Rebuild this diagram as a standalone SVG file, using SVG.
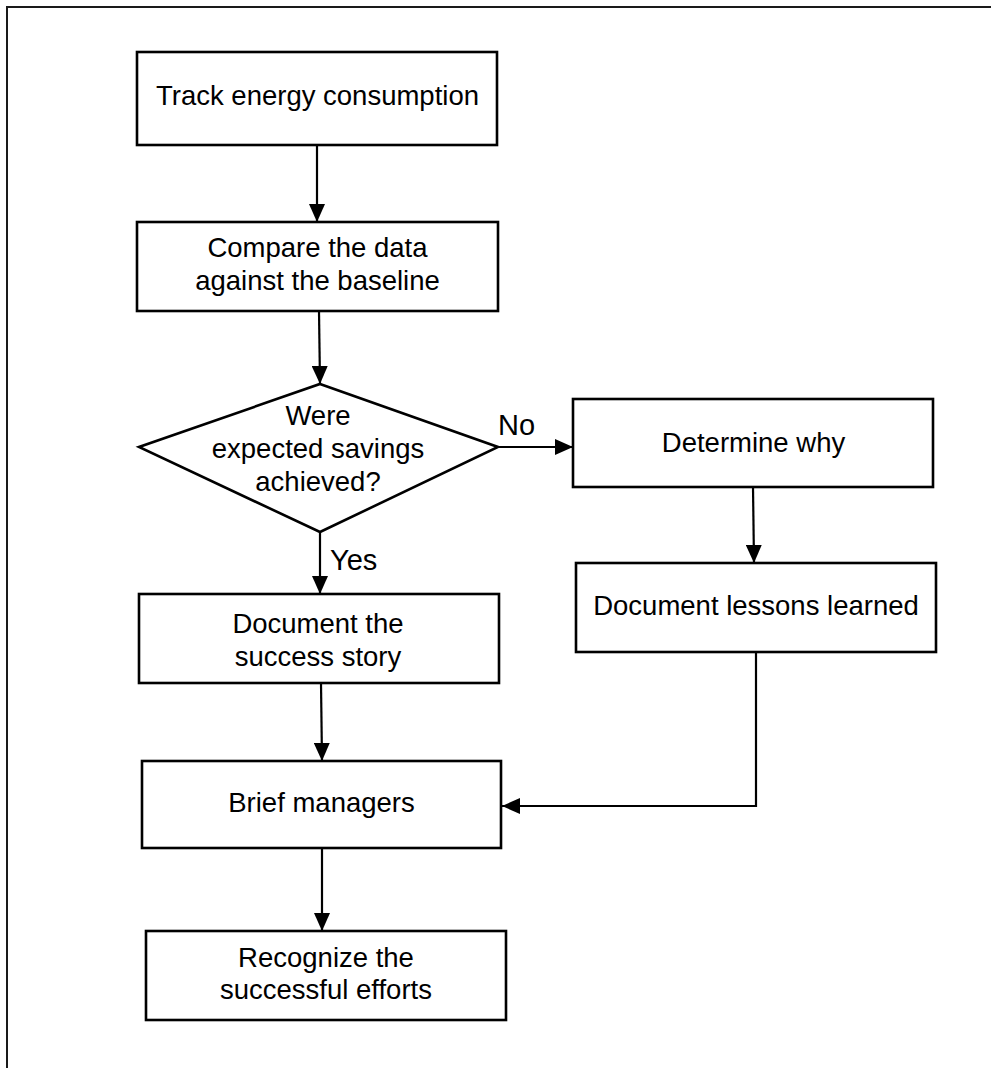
<svg xmlns="http://www.w3.org/2000/svg" width="991" height="1068" viewBox="0 0 991 1068">
  <style>
    .box { fill: #ffffff; stroke: #000000; stroke-width: 2.6; }
    .edge { fill: none; stroke: #000000; stroke-width: 2.2; }
    .frame { fill: none; stroke: #1a1a1a; stroke-width: 2; }
    text { font-family: "Liberation Sans", Arial, sans-serif; font-size: 27.5px; fill: #000000; text-anchor: middle; }
    .lbl { font-size: 29px; text-anchor: start; }
  </style>
  <defs>
    <marker id="arrow" markerUnits="userSpaceOnUse" markerWidth="18" markerHeight="16" refX="18" refY="8" orient="auto">
      <path d="M0,0 L18,8 L0,16 Z" fill="#000000"/>
    </marker>
  </defs>

  <!-- page frame (top and left edges) -->
  <path class="frame" d="M7,1068 L7,7 L991,7"/>

  <g id="connectors">
    <line class="edge" x1="317" y1="145" x2="317" y2="222" marker-end="url(#arrow)"/>
    <line class="edge" x1="319" y1="311" x2="320" y2="384" marker-end="url(#arrow)"/>
    <line class="edge" x1="498" y1="447" x2="573" y2="447" marker-end="url(#arrow)"/>
    <line class="edge" x1="320" y1="532" x2="320" y2="594" marker-end="url(#arrow)"/>
    <line class="edge" x1="753" y1="487" x2="754" y2="563" marker-end="url(#arrow)"/>
    <line class="edge" x1="321" y1="683" x2="322" y2="761" marker-end="url(#arrow)"/>
    <polyline class="edge" points="756,652 756,806 502,806" marker-end="url(#arrow)"/>
    <line class="edge" x1="322" y1="848" x2="322" y2="931" marker-end="url(#arrow)"/>
    <text class="lbl" x="498" y="435">No</text>
    <text class="lbl" x="330" y="570">Yes</text>
  </g>

  <g id="track">
    <rect class="box" x="137" y="52" width="360" height="93"/>
    <text x="317.5" y="105">Track energy consumption</text>
  </g>

  <g id="compare">
    <rect class="box" x="137" y="222" width="361" height="89"/>
    <text x="317.5" y="257">Compare the data</text>
    <text x="317.5" y="290">against the baseline</text>
  </g>

  <g id="decision">
    <polygon class="box" points="320,384 498,447 320,532 139,447"/>
    <text x="318" y="425">Were</text>
    <text x="318" y="458">expected savings</text>
    <text x="318" y="491">achieved?</text>
  </g>

  <g id="determine">
    <rect class="box" x="573" y="399" width="360" height="88"/>
    <text x="753.5" y="452">Determine why</text>
  </g>

  <g id="lessons">
    <rect class="box" x="576" y="563" width="360" height="89"/>
    <text x="756" y="615">Document lessons learned</text>
  </g>

  <g id="success">
    <rect class="box" x="139" y="594" width="360" height="89"/>
    <text x="318" y="633">Document the</text>
    <text x="318" y="666">success story</text>
  </g>

  <g id="brief">
    <rect class="box" x="142" y="761" width="359" height="87"/>
    <text x="321.5" y="812">Brief managers</text>
  </g>

  <g id="recognize">
    <rect class="box" x="146" y="931" width="360" height="89"/>
    <text x="326" y="967">Recognize the</text>
    <text x="326" y="999">successful efforts</text>
  </g>
</svg>
